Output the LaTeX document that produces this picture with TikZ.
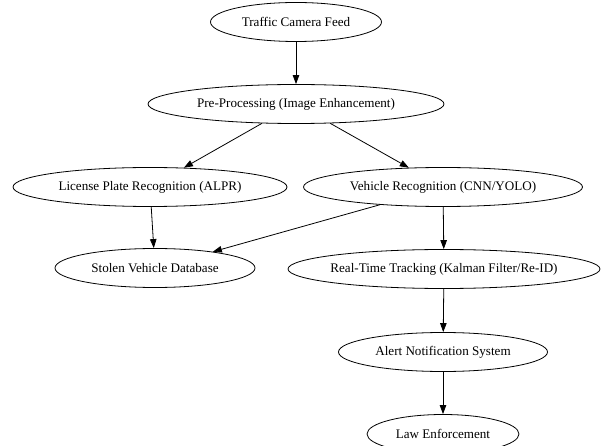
\documentclass[tikz,border=0pt]{standalone}
\usepackage{fontspec}
\setmainfont{Liberation Serif}
\usepackage{tikz}
\usetikzlibrary{shapes, arrows.meta, positioning}

\begin{document}
\begin{tikzpicture}[x=1pt, y=-1pt, ->, >={Triangle[length=9pt, width=6.5pt]}, line width=0.8pt,
    stage/.style={ellipse, draw, inner xsep=-6pt, inner ysep=0pt, minimum height=39pt, font=\fontsize{13.1}{15}\selectfont}]
        \useasboundingbox (0, 0) rectangle (602, 446);
        \node [stage, minimum width=171pt] (feed) at (296, 22) {Traffic Camera Feed};
        \node [stage, minimum width=296pt] (prep) at (296, 104) {Pre-Processing (Image Enhancement)};
        \node [stage, minimum width=274pt] (alpr) at (150, 187) {License Plate Recognition (ALPR)};
        \node [stage, minimum width=279pt] (vrec) at (443, 187) {Vehicle Recognition (CNN/YOLO)};
        \node [stage, minimum width=200pt] (stolen) at (155, 268) {Stolen Vehicle Database};
        \node [stage, minimum width=312pt] (track) at (444, 269) {Real-Time Tracking (Kalman Filter/Re-ID)};
        \node [stage, minimum width=209pt] (alert) at (443, 352) {Alert Notification System};
        \node [stage, minimum width=152pt] (police) at (443, 434) {Law Enforcement};
        \path (feed) edge (prep);
        \path (prep) edge (alpr);
        \path (prep) edge (vrec);
        \path (alpr) edge (stolen);
        \path (vrec) edge (stolen);
        \path (vrec) edge (track);
        \path (track) edge (alert);
        \path (alert) edge (police);
    \end{tikzpicture}
\end{document}
